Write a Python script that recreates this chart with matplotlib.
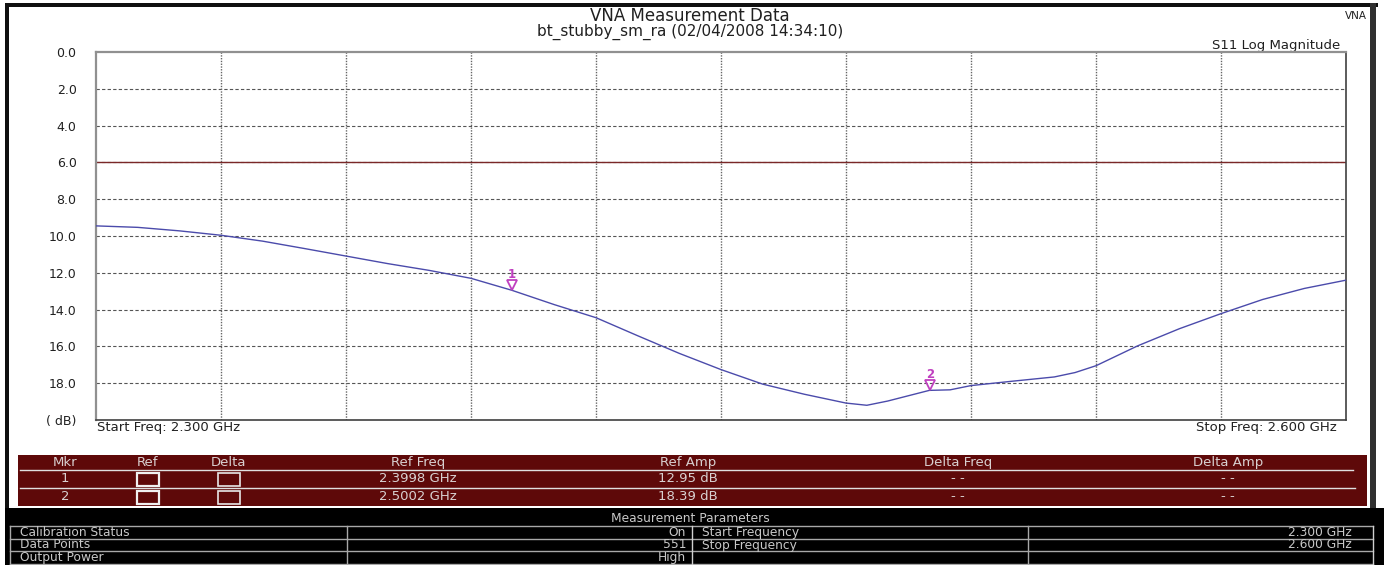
import matplotlib
matplotlib.use("Agg")
import matplotlib.pyplot as plt
from matplotlib.patches import Rectangle
from matplotlib.transforms import offset_copy

# ---------------- data ----------------
freq_ghz = [2.300, 2.310, 2.320, 2.330, 2.340, 2.350, 2.360, 2.370, 2.380, 2.390,
            2.3998, 2.410, 2.420, 2.430, 2.440, 2.450, 2.460, 2.470, 2.480,
            2.485, 2.490, 2.500, 2.505, 2.510, 2.520, 2.530, 2.535, 2.540, 2.550, 2.560,
            2.570, 2.580, 2.590, 2.600]
s11_db = [9.45, 9.53, 9.72, 9.96, 10.28, 10.68, 11.09, 11.50, 11.87, 12.30,
          12.95, 13.73, 14.44, 15.42, 16.38, 17.26, 18.05, 18.60, 19.08,
          19.20, 18.97, 18.39, 18.36, 18.13, 17.89, 17.66, 17.42, 17.05, 15.97, 15.04,
          14.22, 13.45, 12.85, 12.40]
limit_db = 6.0
y_ticks = [0, 2, 4, 6, 8, 10, 12, 14, 16, 18, 20]
y_tick_labels = ["0.0", "2.0", "4.0", "6.0", "8.0", "10.0", "12.0", "14.0", "16.0", "18.0", "( dB)"]
x_grid = [2.30, 2.33, 2.36, 2.39, 2.42, 2.45, 2.48, 2.51, 2.54, 2.57, 2.60]

mkr_headers = ["Mkr", "Ref", "Delta", "Ref Freq", "Ref Amp", "Delta Freq", "Delta Amp"]
mkr_ids = ["1", "2"]
mkr_freq = [2.3998, 2.5002]
mkr_amp = [12.95, 18.39]
mkr_delta_freq = ["- -", "- -"]
mkr_delta_amp = ["- -", "- -"]

param_title = "Measurement Parameters"
param_names = ["Calibration Status", "Data Points", "Output Power"]
param_values = ["On", "551", "High"]
param_names2 = ["Start Frequency", "Stop Frequency", ""]
param_values2 = ["2.300 GHz", "2.600 GHz", ""]

title = "VNA Measurement Data"
subtitle = "bt_stubby_sm_ra (02/04/2008 14:34:10)"
trace_name = "S11 Log Magnitude"
start_label = "Start Freq: 2.300 GHz"
stop_label = "Stop Freq: 2.600 GHz"

# ---------------- figure ----------------
W, H = 1384, 565
fig = plt.figure(figsize=(W / 100, H / 100), dpi=100)
plt.rcParams['font.family'] = ['DejaVu Sans']

bg = fig.add_axes([0, 0, 1, 1])
bg.set_xlim(0, W)
bg.set_ylim(H, 0)
bg.axis("off")

def rect(x0, y0, x1, y1, **kw):
    bg.add_patch(Rectangle((x0, y0), x1 - x0, y1 - y0, **kw))

# outer frame
rect(5, 3, 1378, 7, color="#101010", lw=0)
rect(5, 3, 9, 565, color="#101010", lw=0)
rect(1370, 3, 1376, 508, color="#303030", lw=0)
rect(5, 508, W, H, color="#000000", lw=0)

# titles
txt = "#202020"
bg.text(690, 16, title, ha="center", va="center", fontsize=12, color=txt)
bg.text(690, 32, subtitle, ha="center", va="center", fontsize=11, color=txt)
bg.text(1367, 16, "VNA", ha="right", va="center", fontsize=7.5, color=txt)
bg.text(1340, 45, trace_name, ha="right", va="center", fontsize=9.5, color=txt)
bg.text(97, 428, start_label, ha="left", va="center", fontsize=9.5, color=txt)
bg.text(1337, 428, stop_label, ha="right", va="center", fontsize=9.5, color=txt)

# marker table
red = "#5e0909"
rect(18, 455, 1367, 506, color=red, lw=0)
bg.plot([20, 1353], [470, 470], color="#e0e0e0", lw=1)
bg.plot([20, 1355], [488, 488], color="#e0e0e0", lw=1)
col_x = [65, 148, 229, 418, 688, 958, 1228]
tcol = "#d8d0d0"
fs_t = 9.5
for cx, h in zip(col_x, mkr_headers):
    bg.text(cx, 462.5, h, ha="center", va="center", fontsize=fs_t, color=tcol)
row_y = [479, 497]
for i, ry in enumerate(row_y):
    bg.text(col_x[0], ry, mkr_ids[i], ha="center", va="center", fontsize=fs_t, color=tcol)
    rect(137, ry - 6.5, 159, ry + 6.5, facecolor="none", edgecolor="#f0f0f0", lw=1.6)
    rect(218, ry - 6.5, 240, ry + 6.5, facecolor="none", edgecolor="#e8e8e8", lw=1.2)
    bg.text(col_x[3], ry, f"{mkr_freq[i]:.4f} GHz", ha="center", va="center", fontsize=fs_t, color=tcol)
    bg.text(col_x[4], ry, f"{mkr_amp[i]:.2f} dB", ha="center", va="center", fontsize=fs_t, color=tcol)
    bg.text(col_x[5], ry, mkr_delta_freq[i], ha="center", va="center", fontsize=fs_t, color=tcol)
    bg.text(col_x[6], ry, mkr_delta_amp[i], ha="center", va="center", fontsize=fs_t, color=tcol)

# parameter table
pcol = "#c8c8c8"
gl = "#a8a8a8"
fs_p = 8.8
bg.text(690, 518.5, param_title, ha="center", va="center", fontsize=fs_p, color=pcol)
for yy in [525.5, 538.5, 550.5, 563.5]:
    bg.plot([10, 1373], [yy, yy], color=gl, lw=1)
for xx in [10, 347, 692, 1028, 1373]:
    bg.plot([xx, xx], [525.5, 565], color="#d0d0d0" if xx in (692, 1373) else gl, lw=1)
prow_y = [532.5, 545, 557.5]
for i, py in enumerate(prow_y):
    bg.text(20, py, param_names[i], ha="left", va="center", fontsize=fs_p, color=pcol)
    bg.text(686, py, param_values[i], ha="right", va="center", fontsize=fs_p, color=pcol)
    bg.text(702, py, param_names2[i], ha="left", va="center", fontsize=fs_p, color=pcol)
    bg.text(1352, py, param_values2[i], ha="right", va="center", fontsize=fs_p, color=pcol)

# ---------------- plot axes ----------------
x0, x1, y0, y1 = 96, 1346, 52, 420
ax = fig.add_axes([x0 / W, 1 - y1 / H, (x1 - x0) / W, (y1 - y0) / H])
ax.set_xlim(x_grid[0], x_grid[-1])
ax.set_ylim(y_ticks[-1], y_ticks[0])
ax.set_facecolor("white")

for yv in y_ticks[1:-1]:
    ax.axhline(yv, color="#555555", lw=0.8, ls=(0, (3, 2)), zorder=1)
for xv in x_grid[1:-1]:
    ax.axvline(xv, color="#666666", lw=1.0, ls=(0, (1, 1)), zorder=1)
ax.axhline(limit_db, color="#7a2828", lw=1.0, zorder=2)

ax.plot(freq_ghz, s11_db, color="#4b4bab", lw=1.0, zorder=3)

mcol = "#c040c0"
tr = offset_copy(ax.transData, fig=fig, x=0, y=5, units="dots")
for i in range(len(mkr_ids)):
    ax.plot([mkr_freq[i]], [mkr_amp[i]], marker="v", ms=7, mfc="none", mec=mcol,
            mew=1.3, transform=tr, zorder=4)
    ax.annotate(mkr_ids[i], xy=(mkr_freq[i], mkr_amp[i]), xytext=(0, 16),
                textcoords="offset pixels", ha="center", va="center",
                fontsize=8.5, fontweight="bold", color=mcol)

ax.set_yticks(y_ticks)
ax.set_yticklabels(y_tick_labels)
ax.set_xticks([])
ax.tick_params(axis="y", length=0, pad=14, labelsize=9, labelcolor="#202020")
for side in ["left", "top"]:
    ax.spines[side].set_color("#909090")
    ax.spines[side].set_linewidth(1.6)
for side in ["right", "bottom"]:
    ax.spines[side].set_color("#404040")
    ax.spines[side].set_linewidth(1.2)

fig.savefig("out.png", dpi=100)
